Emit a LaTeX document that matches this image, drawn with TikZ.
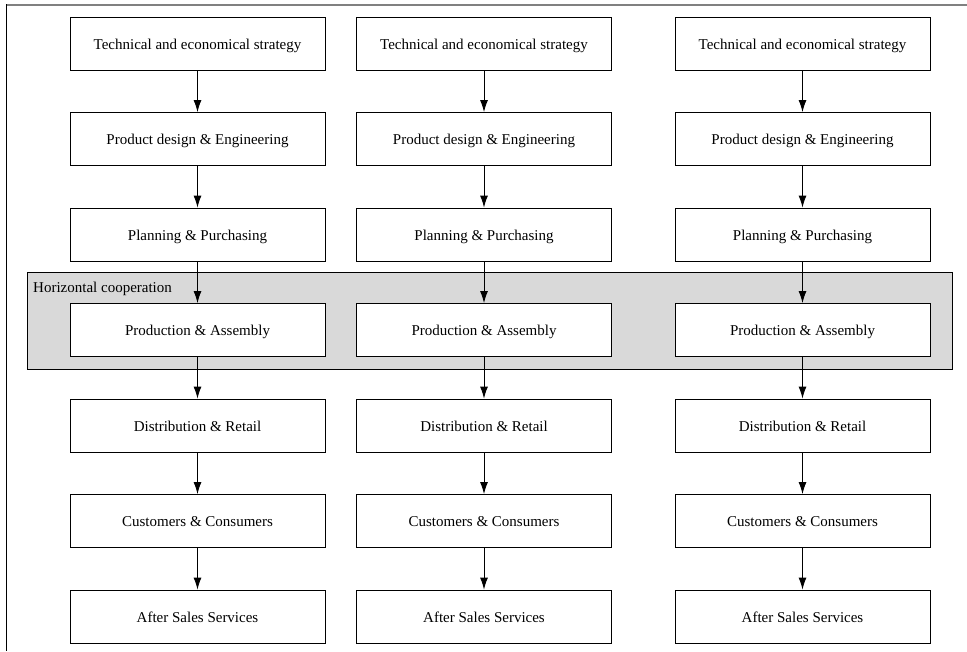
\documentclass[tikz,border=0pt]{standalone}
\usepackage{fontspec}
\setmainfont{Liberation Serif}
\usetikzlibrary{arrows.meta}

\tikzset{
  stage/.style={draw,fill=white,line width=0.9pt,minimum width=255pt,minimum height=53pt,
    inner sep=0pt,text height=13pt,text depth=1.5pt,font=\fontsize{15}{17}\selectfont},
  flow/.style={line width=0.9pt,-{Latex[length=12pt,width=8pt]}}
}

\begin{document}
\begin{tikzpicture}[x=1pt,y=-1pt]
        \useasboundingbox (0,0) rectangle (967,651) ;
        % frame: only top and left edges show
        \draw[gray,line width=2pt] (6,4.5) -- (967,4.5) ;
        \draw[line width=1.4pt] (6.5,4) -- (6.5,651) ;
        % the shaded band
        \draw[fill=black!15,line width=0.9pt] (27,272) rectangle (952,369) ;
        \node[anchor=base west,inner sep=0pt,font=\fontsize{15}{17}\selectfont] (band) at (33,292) {Horizontal cooperation} ;
        \foreach \c/\x in {1/197.5,2/484,3/802.5} {
          \node[stage] (tech\c) at (\x,43.5) {Technical and economical strategy} ;
          \node[stage] (design\c) at (\x,139) {Product design \& Engineering} ;
          \node[stage] (plan\c) at (\x,234.5) {Planning \& Purchasing} ;
          \node[stage] (prod\c) at (\x,330) {Production \& Assembly} ;
          \node[stage] (dist\c) at (\x,425.5) {Distribution \& Retail} ;
          \node[stage] (cust\c) at (\x,521) {Customers \& Consumers} ;
          \node[stage] (after\c) at (\x,616.5) {After Sales Services} ;
          \draw[flow] (tech\c) -- (design\c) ;
          \draw[flow] (design\c) -- (plan\c) ;
          \draw[flow] (plan\c) -- (prod\c) ;
          \draw[flow] (prod\c) -- (dist\c) ;
          \draw[flow] (dist\c) -- (cust\c) ;
          \draw[flow] (cust\c) -- (after\c) ;
        }
      \end{tikzpicture}
\end{document}
